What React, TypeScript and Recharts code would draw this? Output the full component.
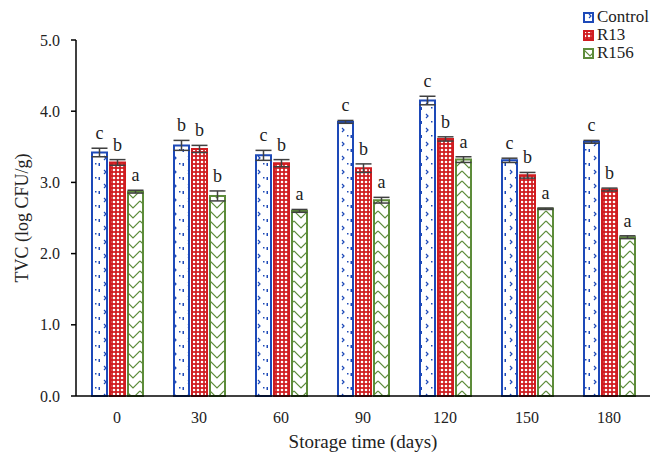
import React from "react"
import { BarChart, Bar, XAxis, YAxis, ErrorBar, LabelList } from "recharts"

const days = ["0", "30", "60", "90", "120", "150", "180"]
const control = [3.42, 3.52, 3.38, 3.85, 4.15, 3.31, 3.57]
const controlErr = [0.06, 0.07, 0.07, 0.02, 0.06, 0.03, 0.02]
const r13 = [3.28, 3.47, 3.27, 3.2, 3.61, 3.1, 2.9]
const r13Err = [0.04, 0.05, 0.05, 0.06, 0.03, 0.04, 0.02]
const r156 = [2.87, 2.81, 2.6, 2.75, 3.32, 2.63, 2.23]
const r156Err = [0.02, 0.07, 0.02, 0.04, 0.04, 0.01, 0.02]
const controlLetters = ["c", "b", "c", "c", "c", "c", "c"]
const r13Letters = ["b", "b", "b", "b", "b", "b", "b"]
const r156Letters = ["a", "b", "a", "a", "a", "a", "a"]
const yTicks = [0, 1, 2, 3, 4, 5]

const data = days.map((d, i) => ({
  day: d,
  control: control[i],
  controlErr: controlErr[i],
  r13: r13[i],
  r13Err: r13Err[i],
  r156: r156[i],
  r156Err: r156Err[i],
}))

const BLUE = "#1d49b8"
const RED = "#d01c20"
const GREEN = "#5d8c3a"
const FONT = "Liberation Serif"
const PX_PER_UNIT = 356 / 5

const series = [
  { key: "control", name: "Control", color: BLUE, fill: "url(#patControl)" },
  { key: "r13", name: "R13", color: RED, fill: "url(#patR13)" },
  { key: "r156", name: "R156", color: GREEN, fill: "url(#patR156)" },
]

function Patterns() {
  return (
    <svg width={0} height={0} style={{ position: "absolute" }}>
      <defs>
        <pattern id="patControl" patternUnits="userSpaceOnUse" width={14} height={14}>
          <rect width={14} height={14} fill="#fff" />
          <path d="M6,2 L8,4 L6,6" stroke={BLUE} strokeWidth={1.2} fill="none" />
          <rect x={0.5} y={9} width={1.5} height={3} fill={BLUE} />
          <rect x={11} y={9} width={1.5} height={1.5} fill={BLUE} />
        </pattern>
        <pattern id="patR13" patternUnits="userSpaceOnUse" width={4} height={4}>
          <rect width={4} height={4} fill={RED} />
          <circle cx={2} cy={2} r={1.3} fill="#fff" />
        </pattern>
        <pattern id="patR156" patternUnits="userSpaceOnUse" width={14} height={10}>
          <rect width={14} height={10} fill="#fff" />
          <path d="M0,1 L7,8 L14,1" stroke={GREEN} strokeWidth={1.2} fill="none" />
        </pattern>
      </defs>
    </svg>
  )
}

function letterLabel(letters: string[], errs: number[]) {
  return (props: any) => {
    const { x, y, width, index } = props
    const top = Number(y) - errs[index] * PX_PER_UNIT
    return (
      <text
        x={Number(x) + Number(width) / 2}
        y={top - 9}
        textAnchor="middle"
        fontFamily={FONT}
        fontSize={18}
        fill="#222"
      >
        {letters[index]}
      </text>
    )
  }
}

function LegendBox() {
  return (
    <div
      style={{
        position: "absolute",
        left: 583,
        top: 8,
        fontFamily: FONT,
        fontSize: 17,
        color: "#222",
        lineHeight: "18px",
      }}
    >
      {series.map((s) => (
        <div key={s.key} style={{ display: "flex", alignItems: "center" }}>
          <svg width={11} height={11} style={{ marginRight: 3 }}>
            <rect x={1} y={1} width={9} height={9} fill={s.fill} stroke={s.color} strokeWidth={2} />
          </svg>
          <span>{s.name}</span>
        </div>
      ))}
    </div>
  )
}

export default function App() {
  const letters = [controlLetters, r13Letters, r156Letters]
  const errs = [controlErr, r13Err, r156Err]
  return (
    <div style={{ position: "absolute", left: 0, top: 0, width: 652, height: 454, background: "#fff" }}>
      <Patterns />
      <BarChart
        width={652}
        height={454}
        data={data}
        margin={{ top: 40, right: 2, left: 0, bottom: 0 }}
        barSize={15}
        barGap={3}
      >
        <XAxis
          dataKey="day"
          height={58}
          tickLine={false}
          tickSize={6}
          tickMargin={10}
          axisLine={{ stroke: "#000", strokeWidth: 1.5 }}
          tick={{ fontFamily: FONT, fontSize: 16, fill: "#222" }}
          label={{
            value: "Storage time (days)",
            position: "insideBottom",
            offset: 6,
            style: { fontFamily: FONT, fontSize: 19, fill: "#222" },
          }}
        />
        <YAxis
          width={76}
          domain={[0, 5]}
          ticks={yTicks}
          tickFormatter={(v: number) => v.toFixed(1)}
          tickSize={5}
          tickMargin={11}
          tickLine={{ stroke: "#000", strokeWidth: 1.5 }}
          axisLine={{ stroke: "#000", strokeWidth: 1.5 }}
          tick={{ fontFamily: FONT, fontSize: 16, fill: "#222" }}
          label={{
            value: "TVC (log CFU/g)",
            angle: -90,
            position: "insideLeft",
            offset: 22,
            style: { fontFamily: FONT, fontSize: 18, fill: "#222", textAnchor: "middle" },
          }}
        />
        {series.map((s, i) => (
          <Bar
            key={s.key}
            dataKey={s.key}
            name={s.name}
            fill={s.fill}
            stroke={s.color}
            strokeWidth={2}
            isAnimationActive={false}
          >
            <ErrorBar dataKey={s.key + "Err"} width={8} stroke="#404040" strokeWidth={1.5} direction="y" />
            <LabelList dataKey={s.key} content={letterLabel(letters[i], errs[i])} />
          </Bar>
        ))}
      </BarChart>
      <LegendBox />
    </div>
  )
}
